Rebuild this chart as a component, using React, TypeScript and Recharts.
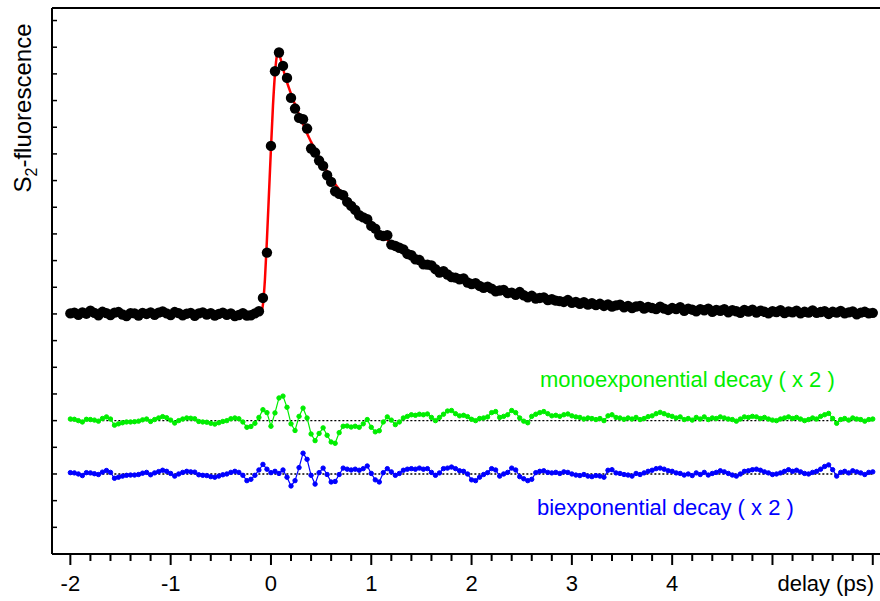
import React from 'react';
import { ComposedChart, XAxis, YAxis, ZAxis, Scatter, Line, ReferenceLine } from 'recharts';

const FONT = '"Liberation Sans", Arial, Helvetica, sans-serif';
const GREEN = '#00ee00';
const BLUE = '#0000ff';
const RED = '#ff0000';

// measured trace is sampled every 0.04 ps starting at -2 ps
const START_T = -2;
const STEP_T = 0.04;

// S2 fluorescence (units of one y tick)
const signal = [
  0.02, 0.05, -0.03, 0.06, 0.01, 0.12, 0.04, -0.05, 0.08, 0.03,
  -0.04, 0.05, 0.07, -0.02, -0.08, 0.03, 0.02, -0.06, 0.04, 0.0,
  0.06, -0.03, 0.05, 0.09, 0.02, -0.04, 0.07, 0.03, -0.05, 0.01,
  0.04, -0.07, 0.02, 0.06, -0.02, 0.03, -0.06, 0.0, 0.05, -0.03,
  0.02, -0.08, -0.04, 0.03, -0.06,
  -0.05, 0.02, 0.1, 0.6, 2.3, 6.3, 9.1, 9.8, 9.3, 8.85,
  8.1, 7.7, 7.35, 7.3, 6.95, 6.2, 6.05, 5.75, 5.55, 5.2,
  4.95, 4.6, 4.5, 4.45, 4.2, 4.05, 3.9, 3.7, 3.62, 3.55,
  3.3, 3.2, 2.96, 2.92, 2.95, 2.6, 2.55, 2.48, 2.42, 2.25,
  2.2, 2.05, 2.02, 1.86, 1.85, 1.82, 1.68, 1.55, 1.6, 1.48,
  1.38, 1.36, 1.3, 1.33, 1.18, 1.12, 1.15, 1.05, 0.98, 1.02,
  0.95, 0.85, 0.88, 0.9, 0.78, 0.8, 0.72, 0.82, 0.7, 0.62,
  0.68, 0.58, 0.6, 0.62, 0.52, 0.55, 0.5, 0.48, 0.45, 0.52,
  0.42, 0.45, 0.38, 0.44, 0.35, 0.4, 0.33, 0.38, 0.3, 0.36,
  0.28, 0.32, 0.35, 0.25, 0.3, 0.22, 0.28, 0.3, 0.2, 0.26,
  0.22, 0.18, 0.27, 0.2, 0.15, 0.22, 0.18, 0.25, 0.12, 0.2,
  0.16, 0.1, 0.18, 0.14, 0.2, 0.08, 0.15, 0.12, 0.18, 0.06,
  0.14, 0.1, 0.04, 0.15, 0.09, 0.16, 0.05, 0.12, 0.08, 0.02,
  0.1, 0.07, 0.14, 0.03, 0.09, 0.06, 0.12, 0.02, 0.08, 0.05,
  0.13, 0.04, 0.07, 0.1, 0.0, 0.08, 0.05, 0.11, 0.02, 0.06,
  0.09, -0.01, 0.05, 0.08, 0.02, 0.04,
];

// residuals (x 2), drawn shifted down below the trace
const monoResidual = [
  0.06, 0.05, 0.0, -0.05, 0.05, 0.04, 0.02, -0.02, 0.08, 0.14,
  0.06, -0.17, -0.12, -0.08, -0.05, -0.05, -0.04, -0.02, 0.03, 0.06,
  -0.03, 0.04, 0.1, 0.15, 0.11, 0.02, -0.09, 0.0, 0.06, 0.1,
  0.09, 0.07, -0.03, -0.05, -0.06, -0.1, -0.13, -0.08, -0.03, 0.0,
  0.07, 0.1, 0.07, -0.05,
  -0.25, -0.22, -0.1, 0.12, 0.41, 0.3, -0.21, 0.29, 0.85, 0.92,
  0.5, -0.12, -0.37, 0.16, 0.47, 0.1, -0.5, -0.75, -0.48, -0.27,
  -0.55, -0.8, -0.85, -0.45, -0.21, -0.2, -0.24, -0.21, -0.25, -0.12,
  0.04, -0.25, -0.42, -0.38, -0.05, 0.14, 0.02, -0.15, -0.05, 0.1,
  0.16, 0.22, 0.2, 0.24, 0.22, 0.25, 0.12, 0.0, 0.12, 0.24,
  0.36, 0.38, 0.26, 0.18, 0.2, 0.15, 0.05, 0.0, 0.08, 0.1,
  0.14, 0.3, 0.34, 0.12, 0.16, 0.22, 0.38, 0.3, 0.1, -0.02,
  -0.08, 0.16, 0.24, 0.3, 0.34, 0.26, 0.18, 0.2, 0.16, 0.22,
  0.25, 0.18, 0.14, 0.12, 0.06, 0.1, 0.08, 0.04, 0.08, 0.0,
  0.18, 0.22, 0.12, 0.1, 0.05, 0.1, 0.06, 0.12, 0.04, 0.08,
  0.15, 0.18, 0.26, 0.31, 0.26, 0.2, 0.16, 0.1, 0.14, 0.04,
  0.08, 0.02, 0.12, 0.06, 0.14, 0.04, 0.1, 0.08, 0.14, 0.1,
  0.06, 0.04, -0.02, 0.06, 0.14, 0.12, 0.16, 0.14, 0.08, 0.12,
  0.06, 0.02, 0.0, 0.06, 0.1, 0.14, 0.08, 0.12, 0.06, 0.0,
  0.04, 0.1, 0.06, 0.16, 0.22, 0.27, 0.08, -0.1, 0.04, 0.08,
  0.02, 0.1, 0.06, 0.04, -0.02, 0.04, 0.06,
];

const biResidual = [
  0.05, 0.04, 0.0, -0.06, 0.05, 0.04, 0.01, -0.02, 0.07, 0.13,
  0.06, -0.16, -0.12, -0.08, -0.05, -0.04, -0.04, -0.02, 0.03, 0.06,
  -0.03, 0.04, 0.09, 0.14, 0.1, 0.02, -0.08, 0.0, 0.06, 0.1,
  0.08, 0.07, -0.03, -0.05, -0.06, -0.1, -0.12, -0.08, -0.03, 0.0,
  0.06, 0.1, 0.06, -0.05,
  -0.25, -0.2, -0.05, 0.15, 0.36, 0.18, 0.05, 0.1, 0.02, 0.15,
  -0.12, -0.45, -0.25, 0.24, 0.78, 0.55, -0.05, -0.38, 0.05, 0.22,
  -0.02, -0.3, -0.28, -0.02, 0.22, 0.18, 0.15, 0.18, 0.14, 0.2,
  0.3, 0.02, -0.22, -0.3, 0.05, 0.2, 0.08, -0.05, 0.02, 0.14,
  0.18, 0.2, 0.18, 0.22, 0.18, 0.2, 0.06, -0.05, 0.04, 0.2,
  0.22, 0.26, 0.2, 0.12, 0.1, 0.0, -0.22, -0.25, -0.12, -0.02,
  0.05, 0.2, 0.15, -0.08, 0.0, 0.06, 0.22, 0.15, -0.1, -0.18,
  -0.25, -0.2, 0.05, 0.1, 0.12, 0.06, 0.04, 0.06, 0.02, 0.08,
  0.06, 0.0, -0.04, -0.06, -0.02, -0.08, -0.1, -0.06, -0.08, -0.12,
  0.14, 0.16, 0.04, 0.02, -0.02, -0.04, -0.08, 0.02, -0.02, 0.04,
  0.1, 0.14, 0.2, 0.22, 0.18, 0.12, 0.1, 0.04, 0.02, -0.04,
  0.0, -0.06, 0.04, -0.02, 0.06, -0.04, 0.02, 0.06, 0.12, 0.08,
  0.02, -0.04, -0.08, 0.0, 0.1, 0.12, 0.16, 0.18, 0.14, 0.08,
  0.04, -0.02, 0.0, 0.04, 0.1, 0.16, 0.1, 0.14, 0.08, 0.02,
  0.0, 0.06, 0.1, 0.18, 0.28, 0.34, 0.16, -0.08, 0.06, 0.1,
  0.04, 0.12, 0.08, 0.04, -0.02, 0.06, 0.08,
];

const MONO_OFFSET = -4;
const BI_OFFSET = -6;

// fitted curve
const fitTimes = [
  -2.0, -0.5, -0.13, -0.1, -0.08, -0.06, -0.04, -0.02, 0.0, 0.02, 0.04, 0.06, 0.075, 0.09,
  0.12, 0.15, 0.2, 0.25, 0.3, 0.35, 0.4, 0.45, 0.5, 0.6, 0.7, 0.8, 0.9, 1.0, 1.1, 1.2,
  1.3, 1.4, 1.5, 1.6, 1.8, 2.0, 2.2, 2.4, 2.6, 2.8, 3.0, 3.25, 3.5, 3.75, 4.0, 4.5, 5.0,
  5.5, 6.0,
];
const fitValues = [
  0.0, 0.0, 0.0, 0.05, 0.35, 1.3, 2.8, 4.5, 6.2, 7.8, 9.0, 9.7, 9.82, 9.65,
  9.2, 8.8, 8.25, 7.75, 7.3, 6.85, 6.45, 6.07, 5.72, 5.1, 4.56, 4.1, 3.7, 3.33, 2.97, 2.66,
  2.39, 2.15, 1.94, 1.75, 1.42, 1.16, 0.96, 0.79, 0.66, 0.55, 0.46, 0.37, 0.29, 0.23, 0.18, 0.12, 0.08,
  0.05, 0.03,
];

const xMajorTicks = [-2, -1, 0, 1, 2, 3, 4, 5, 6];
const xTickLabels = ['-2', '-1', '0', '1', '2', '3', '4', '', ''];
const xMinorTicks = [
  -1.8, -1.6, -1.4, -1.2, -0.8, -0.6, -0.4, -0.2, 0.2, 0.4, 0.6, 0.8, 1.2, 1.4, 1.6, 1.8,
  2.2, 2.4, 2.6, 2.8, 3.2, 3.4, 3.6, 3.8, 4.2, 4.4, 4.6, 4.8, 5.2, 5.4, 5.6, 5.8,
];
const yTicks = [-8, -7, -6, -5, -4, -3, -2, -1, 0, 1, 2, 3, 4, 5, 6, 7, 8, 9, 10, 11];

const X_MIN = -2.183;
const X_MAX = 6.072;
const Y_MIN = -9;
const Y_MAX = 11.47;

const timeAt = (i: number) => Math.round((START_T + i * STEP_T) * 100) / 100;
const signalData = signal.map((v, i) => ({ t: timeAt(i), v }));
const monoData = monoResidual.map((r, i) => ({ t: timeAt(i), v: r + MONO_OFFSET }));
const biData = biResidual.map((r, i) => ({ t: timeAt(i), v: r + BI_OFFSET }));
const fitData = fitTimes.map((t, i) => ({ t, v: fitValues[i] }));
const xTicks = [...xMajorTicks, ...xMinorTicks].sort((a, b) => a - b);

function XTick(props: any) {
  const { x, y, payload } = props;
  const idx = xMajorTicks.indexOf(payload.value);
  const major = idx >= 0;
  return (
    <g>
      <line x1={x} x2={x} y1={y} y2={y + (major ? 11 : 7)} stroke="#000" strokeWidth={2} />
      {major && xTickLabels[idx] ? (
        <text x={x} y={y + 37} textAnchor="middle" fontSize={22} fontFamily={FONT} fill="#000">
          {xTickLabels[idx]}
        </text>
      ) : null}
    </g>
  );
}

function YTick(props: any) {
  const { x, y } = props;
  return <line x1={x} x2={x + 5} y1={y} y2={y} stroke="#000" strokeWidth={1.5} />;
}

export default function App() {
  return (
    <div style={{ position: 'relative', width: 880, height: 601, background: '#fff' }}>
      <style>{'body{margin:0}'}</style>
      <ComposedChart width={880} height={601} margin={{ top: 8, right: 0, bottom: 0, left: 50 }}>
        <XAxis
          type="number"
          dataKey="t"
          domain={[X_MIN, X_MAX]}
          allowDataOverflow
          ticks={xTicks}
          interval={0}
          tickLine={false}
          tickSize={0}
          tickMargin={0}
          height={47}
          axisLine={{ stroke: '#000', strokeWidth: 2 }}
          tick={<XTick />}
        />
        <YAxis
          type="number"
          dataKey="v"
          domain={[Y_MIN, Y_MAX]}
          allowDataOverflow
          ticks={yTicks}
          interval={0}
          width={2}
          tickLine={false}
          tickSize={0}
          tickMargin={0}
          axisLine={false}
          tick={<YTick />}
        />
        <ZAxis range={[85, 85]} />
        <ReferenceLine y={Y_MAX} stroke="#000" strokeWidth={2} />
        <ReferenceLine x={X_MIN} stroke="#000" strokeWidth={2} />
        <ReferenceLine
          segment={[{ x: -2, y: MONO_OFFSET }, { x: 6, y: MONO_OFFSET }]}
          stroke="#000"
          strokeWidth={1.4}
          strokeDasharray="2 2"
        />
        <ReferenceLine
          segment={[{ x: -2, y: BI_OFFSET }, { x: 6, y: BI_OFFSET }]}
          stroke="#000"
          strokeWidth={1.4}
          strokeDasharray="2 2"
        />
        <Scatter data={signalData} dataKey="v" fill="#000" shape="circle" isAnimationActive={false} />
        <Line
          data={fitData}
          dataKey="v"
          type="monotone"
          stroke={RED}
          strokeWidth={2.5}
          dot={false}
          isAnimationActive={false}
        />
        <Line
          data={monoData}
          dataKey="v"
          type="linear"
          stroke={GREEN}
          strokeWidth={1.2}
          dot={{ r: 2.2, fill: GREEN, stroke: GREEN, strokeWidth: 1 }}
          isAnimationActive={false}
        />
        <Line
          data={biData}
          dataKey="v"
          type="linear"
          stroke={BLUE}
          strokeWidth={1.2}
          dot={{ r: 2.2, fill: BLUE, stroke: BLUE, strokeWidth: 1 }}
          isAnimationActive={false}
        />
      </ComposedChart>
      <svg
        width={880}
        height={601}
        style={{ position: 'absolute', left: 0, top: 0, pointerEvents: 'none' }}
      >
        <text transform="translate(31,108) rotate(-90)" textAnchor="middle" fontSize={24} fontFamily={FONT} fill="#000">
          <tspan>S</tspan>
          <tspan fontSize={16} dy={6}>2</tspan>
          <tspan dy={-6}>-fluorescence</tspan>
        </text>
        <text x={540} y={387} fontSize={22} fontFamily={FONT} fill={GREEN}>
          monoexponential decay ( x 2 )
        </text>
        <text x={537} y={515} fontSize={22} fontFamily={FONT} fill={BLUE}>
          biexponential decay ( x 2 )
        </text>
        <text x={874} y={591} textAnchor="end" fontSize={22} fontFamily={FONT} fill="#000">
          delay (ps)
        </text>
      </svg>
    </div>
  );
}
